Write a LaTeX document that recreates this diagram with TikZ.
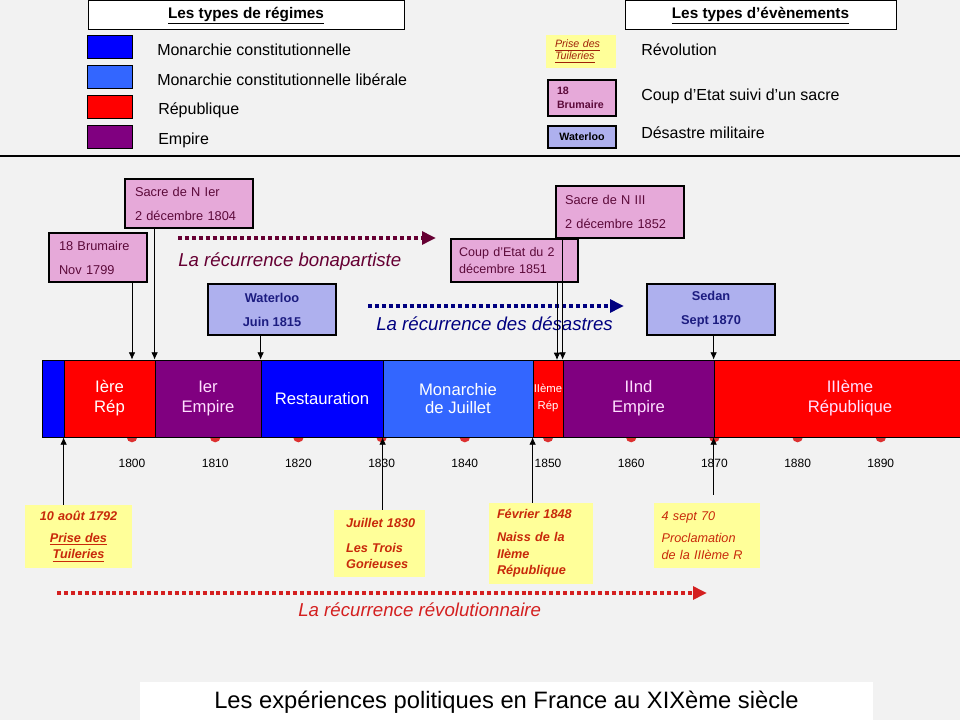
\documentclass[tikz,border=0pt]{standalone}
\usepackage{fontspec}
\setmainfont{Liberation Sans}
\usetikzlibrary{arrows.meta}
\definecolor{bg}{HTML}{F2F2F2}
\definecolor{cblue}{HTML}{0000FF}
\definecolor{clblue}{HTML}{3366FF}
\definecolor{cred}{HTML}{FF0000}
\definecolor{cpurple}{HTML}{800080}
\definecolor{cpl}{HTML}{FFE0FF}
\definecolor{cpink}{HTML}{E6A9D9}
\definecolor{clav}{HTML}{AEB0EE}
\definecolor{cyellow}{HTML}{FFFF99}
\definecolor{cmaroon}{HTML}{5C0A3A}
\definecolor{cnavy}{HTML}{1C1C80}
\definecolor{cevred}{HTML}{C8290A}
\definecolor{cbon}{HTML}{660033}
\definecolor{cdes}{HTML}{000080}
\definecolor{crev}{HTML}{D42020}
\definecolor{cdot}{HTML}{DD3030}
\begin{document}
\begin{tikzpicture}[x=0.75pt,y=-0.75pt,
  rect/.style args={#1/#2/#3/#4}{minimum width={(#3-#1)*0.75pt}, minimum height={(#4-#2)*0.75pt}, at={({(#1+#3)/2},{(#2+#4)/2})}, anchor=center},
  hdr/.style={draw=black, line width=0.75pt, fill=white, inner sep=0pt, font=\bfseries\fontsize{11.5}{14}\selectfont},
  swatch/.style={draw=black, line width=0.6pt, inner sep=0pt},
  leg/.style={anchor=west, inner sep=0pt, font=\fontsize{12}{14}\selectfont},
  ev/.style={draw=black, line width=0.8pt, inner sep=0pt, font=\fontsize{9.6}{18}\selectfont},
  pinkev/.style={ev, fill=cpink, text=cmaroon, align=left},
  blueev/.style={ev, fill=clav, text=cnavy, align=center, font=\bfseries\fontsize{9.6}{18}\selectfont},
  yev/.style={inner sep=0pt, fill=cyellow, text=cevred, align=left, font=\bfseries\itshape\fontsize{9.5}{12.5}\selectfont},
  seg/.style={draw=black, line width=0.6pt, inner sep=0pt, text=white, align=center, font=\fontsize{12.5}{15}\selectfont},
  arr/.style={-{Latex[length=5.5pt,width=5pt]}, line width=0.6pt},
  dotarr/.style={line width=3.6pt, dash pattern=on 3pt off 2.2pt, -{Triangle[length=10.5pt,width=9.5pt]}},
  reclab/.style={font=\itshape\fontsize{14}{16}\selectfont, anchor=west, inner sep=0pt},
  yr/.style={font=\fontsize{9}{11}\selectfont, inner sep=0pt}
]
\fill[bg] (0,0) rectangle (960,720);
\useasboundingbox (0,0) rectangle (960,720);
\clip (0,0) rectangle (960,720);

% ---- legend
\node[hdr, rect=88/1/404/30] (hreg) {\underline{Les types de régimes}};
\node[hdr, rect=625/1/896/30] (hevt) {\underline{Les types d’évènements}};
\node[swatch, fill=cblue, rect=87/35/132/58] (sw1) {};
\node[swatch, fill=clblue, rect=87/65/132/88] (sw2) {};
\node[swatch, fill=cred, rect=87/95/132/118] (sw3) {};
\node[swatch, fill=cpurple, rect=87/125/132/148] (sw4) {};
\node[leg] (lt1) at (157,50) {Monarchie constitutionnelle};
\node[leg] (lt2) at (157,80) {Monarchie constitutionnelle libérale};
\node[leg] (lt3) at (158,110) {République};
\node[leg] (lt4) at (158,140) {Empire};

\node[yev, text=cevred!80!black, font=\itshape\fontsize{8}{9}\selectfont, text width=39pt, rect=546/35/616/68] (ey) {\underline{Prise~des}\\\underline{Tuileries}};
\node[pinkev, font=\bfseries\fontsize{8}{10.5}\selectfont, text width=37.5pt, rect=548/80/616/116] (ep) {18\\Brumaire};
\node[blueev, font=\bfseries\fontsize{8}{10}\selectfont, text=black, rect=548/126/616/148] (eb) {Waterloo};
\node[leg] (et1) at (641,50) {Révolution};
\node[leg] (et2) at (641,96) {Coup d’Etat suivi d’un sacre};
\node[leg] (et3) at (641,133) {Désastre militaire};

\coordinate (sepL) at (0,156);
\coordinate (sepR) at (960,156);
\draw[line width=1.1pt] (sepL) -- (sepR);

% ---- recurrence arrows
\coordinate (b1) at (178,238); \coordinate (b2) at (436,238);
\coordinate (d1) at (368,306); \coordinate (d2) at (624,306);
\coordinate (r1) at (57,593);  \coordinate (r2) at (707,593);
\draw[dotarr, cbon] (b1) -- (b2);
\draw[dotarr, cdes] (d1) -- (d2);
\draw[dotarr, crev] (r1) -- (r2);
\node[reclab, text=cbon] (lbon) at (178,262) {La récurrence bonapartiste};
\node[reclab, text=cdes] (ldes) at (376,324) {La récurrence des désastres};
\node[reclab, text=crev] (lrev) at (298,610) {La récurrence révolutionnaire};

% ---- events above
\node[pinkev, text width=58.5pt, rect=49/233/147/282] (brum) {18~Brumaire\\Nov~1799};
\node[pinkev, text width=81pt, rect=125/179/253/228] (sac1) {Sacre~de~N~Ier\\2~décembre~1804};
\node[blueev, rect=208/284/336/335] (wat) {Waterloo\\Juin~1815};
\node[pinkev, text width=83pt, font=\fontsize{9.4}{13}\selectfont, rect=451/239/578/282] (coup) {Coup~d’Etat~du~2\\décembre~1851};
\node[pinkev, text width=82.5pt, rect=556/186/684/238] (sac3) {Sacre~de~N~III\\2~décembre~1852};
\node[blueev, rect=647/284/775/335] (sed) {Sedan\\Sept~1870};

% ---- year dots and labels
\foreach \i/\yy in {0/1800,1/1810,2/1820,3/1830,4/1840,5/1850,6/1860,7/1870,8/1880,9/1890}{
  \fill[cdot] ({132+83.2*\i},437) circle[radius=4pt];
  \node[yr] (yr\i) at ({132+83.2*\i},463) {\yy};
}

% ---- timeline bar
\node[seg, fill=cblue, rect=42/360/64/437] (s0) {};
\node[seg, fill=cred, rect=64/360/155/437] (s1) {Ière\\Rép};
\node[seg, fill=cpurple, text=cpl, rect=155/360/261/437] (s2) {Ier\\Empire};
\node[seg, fill=cblue, rect=261/360/383/437] (s3) {Restauration};
\node[seg, fill=clblue, font=\fontsize{12.5}{13.5}\selectfont, rect=383/360/533/437] (s4) {Monarchie\\de Juillet};
\node[seg, fill=cred, font=\fontsize{8.5}{12.75}\selectfont, rect=533/360/563/437] (s5) {IIème\\Rép};
\node[seg, fill=cpurple, text=cpl, rect=563/360/714/437] (s6) {IInd\\Empire};
\node[seg, fill=cred, text=cpl, rect=714/360/986/437] (s7) {IIIème\\République};

% ---- events below
\node[yev, align=center, text width=75pt, rect=25/505/132/568] (aout) {10~août~1792\\[3.5pt]\underline{Prise~des}\\\underline{Tuileries}};
\node[yev, text width=50pt, rect=334/510/425/577] (juil) {Juillet~1830\\[6pt]Les~Trois\\Gorieuses};
\node[yev, text width=66pt, rect=489/503/593/584] (fev) {Février~1848\\[4.5pt]Naiss~de~la\\IIème\\République};
\node[yev, text width=68pt, font=\itshape\fontsize{9.5}{12.5}\selectfont, rect=654/503/760/568] (sept) {4~sept~70\\[4.5pt]Proclamation\\de~la~IIIème~R};

% ---- connectors
\coordinate (x1851) at (557,360);
\draw[arr] (brum.south -| yr0) -- (s1.north -| yr0);
\draw[arr] (sac1.south -| s2.north west) -- (s2.north west);
\draw[arr] (wat.south -| s3.north west) -- (s3.north west);
\draw[arr] (coup.south -| x1851) -- (x1851);
\draw[arr] (sac3.south -| s6.north west) -- (s6.north west);
\draw[arr] (sed.south -| s7.north west) -- (s7.north west);
\draw[arr] (aout.north -| s1.south west) -- (s1.south west);
\draw[arr] (juil.north -| s4.south west) -- (s4.south west);
\draw[arr] (fev.north -| s5.south west) -- (s5.south west);
\draw[arr] ([yshift=6pt]sept.north -| s7.south west) -- (s7.south west);

% ---- title
\node[fill=white, inner sep=0pt, font=\fontsize{17.8}{20}\selectfont, rect=140/682/873/722] (title) {Les expériences politiques en France au XIXème siècle};
\end{tikzpicture}
\end{document}
